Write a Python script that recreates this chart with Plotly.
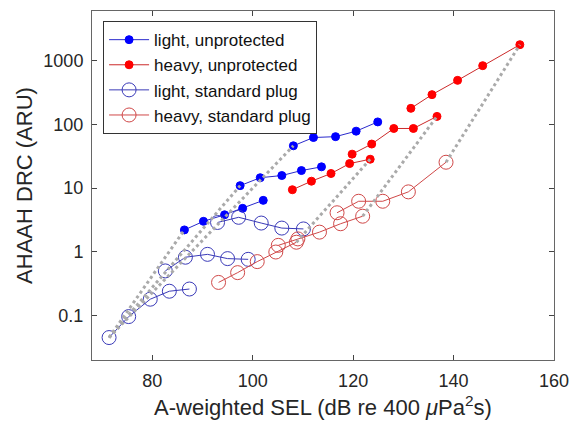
import plotly.graph_objects as go

# ---- data ----
# light, unprotected (three exposure series)
lu1_x = [86.4, 90.2, 94.4, 98.0, 102.1]
lu1_y = [2.2, 3.0, 3.8, 4.8, 6.4]
lu2_x = [97.5, 101.5, 105.8, 109.7, 113.7]
lu2_y = [10.9, 14.5, 15.7, 18.8, 21.5]
lu3_x = [108.1, 112.1, 116.5, 120.6, 124.9]
lu3_y = [46, 62, 64, 78, 109]

# heavy, unprotected
hu1_x = [107.9, 111.7, 115.6, 119.3, 123.4]
hu1_y = [9.4, 12.8, 16.9, 24.2, 28.3]
hu2_x = [119.8, 123.7, 128.1, 132.0, 136.7]
hu2_y = [34, 49, 86, 86, 133]
hu3_x = [131.5, 135.7, 140.8, 145.8, 153.2]
hu3_y = [178, 292, 489, 832, 1776]

# light, standard plug
lp1_x = [71.4, 75.3, 79.6, 83.4, 87.4]
lp1_y = [0.045, 0.096, 0.18, 0.24, 0.26]
lp2_x = [82.6, 86.6, 91.0, 95.0, 99.1]
lp2_y = [0.50, 0.82, 0.91, 0.78, 0.76]
lp3_x = [93.0, 97.2, 101.7, 105.8, 110.1]
lp3_y = [2.88, 3.47, 2.82, 2.35, 2.28]

# heavy, standard plug
hp1_x = [93.2, 97.0, 100.9, 104.6, 108.7]
hp1_y = [0.33, 0.47, 0.70, 0.99, 1.41]
hp2_x = [105.1, 109.0, 113.3, 117.5, 121.9]
hp2_y = [1.26, 1.59, 2.03, 2.75, 3.61]
hp3_x = [116.8, 121.1, 125.9, 131.0, 138.5]
hp3_y = [4.09, 6.2, 6.2, 8.7, 25.4]

x_ticks = [80, 100, 120, 140, 160]
y_ticks = [0.1, 1, 10, 100, 1000]
y_ticklabels = ["0.1", "1", "10", "100", "1000"]

series = [
    ("light, unprotected", [(lu1_x, lu1_y), (lu2_x, lu2_y), (lu3_x, lu3_y)],
     "#0000ff", "#2a2acc", "circle", 8),
    ("heavy, unprotected", [(hu1_x, hu1_y), (hu2_x, hu2_y), (hu3_x, hu3_y)],
     "#ff0000", "#cc2a2a", "circle", 8),
    ("light, standard plug", [(lp1_x, lp1_y), (lp2_x, lp2_y), (lp3_x, lp3_y)],
     "#3a3ab8", "#3a3ab8", "circle-open", 14),
    ("heavy, standard plug", [(hp1_x, hp1_y), (hp2_x, hp2_y), (hp3_x, hp3_y)],
     "#d04848", "#d04848", "circle-open", 14),
]

fig = go.Figure()

for name, groups, mcol, lcol, sym, size in series:
    for i, (xs, ys) in enumerate(groups):
        fig.add_trace(go.Scatter(
            x=xs, y=ys, mode="lines+markers", name=name,
            legendgroup=name, showlegend=(i == 0),
            line=dict(color=lcol, width=1),
            marker=dict(symbol=sym, size=size, color=mcol,
                        line=dict(color=mcol, width=1)),
        ))

# dotted connectors: light plug origin -> first unprotected points; heavy plug ends -> unprotected ends
pairs = [
    (lp1_x[0], lp1_y[0], lu1_x[0], lu1_y[0]),
    (lp1_x[0], lp1_y[0], lu2_x[0], lu2_y[0]),
    (lp1_x[0], lp1_y[0], lu3_x[0], lu3_y[0]),
    (hp1_x[-1], hp1_y[-1], hu1_x[-1], hu1_y[-1]),
    (hp2_x[-1], hp2_y[-1], hu2_x[-1], hu2_y[-1]),
    (hp3_x[-1], hp3_y[-1], hu3_x[-1], hu3_y[-1]),
]
for x0, y0, x1, y1 in pairs:
    fig.add_trace(go.Scatter(
        x=[x0, x1], y=[y0, y1], mode="lines", showlegend=False,
        line=dict(color="#aaaaaa", width=3, dash="dot"), hoverinfo="skip",
    ))

axis_common = dict(
    showline=True, linecolor="#666666", linewidth=1, mirror="allticks",
    ticks="inside", ticklen=5, tickcolor="#444444", showgrid=False, zeroline=False,
    tickfont=dict(family="Liberation Sans, Arial, sans-serif", size=18, color="#262626"),
)

fig.update_layout(
    width=579, height=430,
    margin=dict(l=92, r=23, t=10, b=70),
    paper_bgcolor="white", plot_bgcolor="white",
    font=dict(family="Liberation Sans, Arial, sans-serif", color="#262626"),
    xaxis=dict(
        range=[68, 160], tickvals=x_ticks, ticklabelstandoff=4,
        title=dict(text="A-weighted SEL (dB re 400 <i>μ</i>Pa<sup>2</sup>s)",
                   font=dict(size=22), standoff=10),
        **axis_common,
    ),
    yaxis=dict(
        type="log", range=[-1.699, 3.778], tickvals=y_ticks, ticktext=y_ticklabels,
        ticklabelstandoff=4,
        title=dict(text="AHAAH DRC (ARU)", font=dict(size=22), standoff=4),
        **axis_common,
    ),
    legend=dict(
        x=0.024, y=0.971, xanchor="left", yanchor="top",
        bgcolor="white", bordercolor="#333333", borderwidth=1,
        font=dict(size=17, color="#111111"), tracegroupgap=0,
        itemwidth=40,
    ),
)

fig.write_html("out.html")
